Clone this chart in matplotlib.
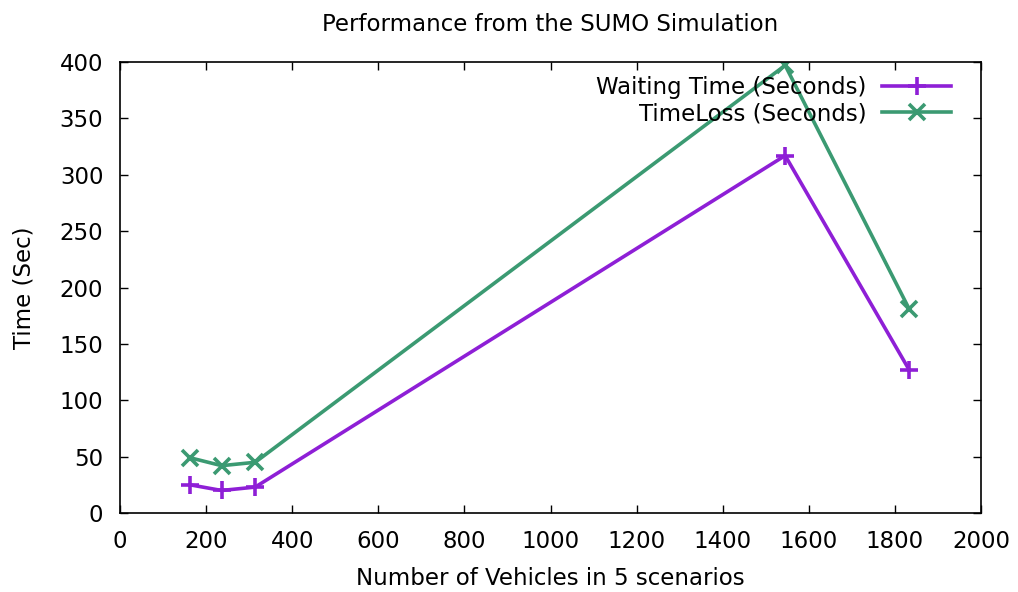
import matplotlib
matplotlib.use("Agg")
import matplotlib.pyplot as plt

# data
vehicles = [163, 236, 314, 1545, 1833]
waiting_time = [25, 20, 23, 317, 127]
time_loss = [49, 42, 45, 397, 181]

plt.rcParams['font.family'] = ['DejaVu Sans']
plt.rcParams['font.size'] = 16.5

fig = plt.figure(figsize=(10.18, 5.92), dpi=100)
ax = fig.add_axes([0.1179, 0.1334, 0.9637 - 0.1179, 0.8953 - 0.1334])

ax.plot(vehicles, waiting_time, color='#8E1FD6', lw=2.6, marker='+',
        markersize=13, markeredgewidth=2.6, label='Waiting Time (Seconds)')
ax.plot(vehicles, time_loss, color='#3B9A72', lw=2.6, marker='x',
        markersize=11, markeredgewidth=2.6, label='TimeLoss (Seconds)')

ax.set_xlim(0, 2000)
ax.set_ylim(0, 400)
ax.set_xticks(range(0, 2001, 200))
ax.set_yticks(range(0, 401, 50))
ax.tick_params(direction='in', top=True, right=True, length=6, width=1)
ax.tick_params(axis='y', pad=12)
ax.tick_params(axis='x', pad=12)
for s in ax.spines.values():
    s.set_linewidth(1.2)

ax.set_title('Performance from the SUMO Simulation', fontsize=16.5, pad=22)
ax.set_xlabel('Number of Vehicles in 5 scenarios', labelpad=10)
ax.set_ylabel('Time (Sec)', labelpad=17)

ax.legend(loc='upper right', frameon=False, markerfirst=False,
          handlelength=3.0, borderaxespad=0.2, labelspacing=0.15,
          handletextpad=0.7, bbox_to_anchor=(0.981, 1.0))

fig.savefig('out.png', dpi=100)
